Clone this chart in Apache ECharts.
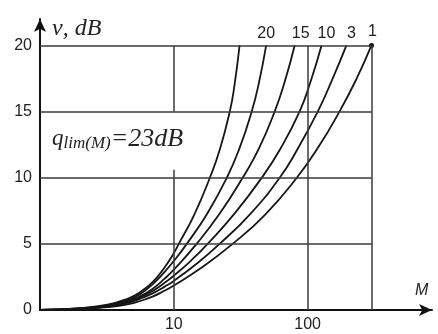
<!DOCTYPE html>
<html><head><meta charset="utf-8">
<script src="https://cdn.jsdelivr.net/npm/echarts@6/dist/echarts.min.js"></script>
<style>html,body{margin:0;padding:0;background:#fff}#c{width:438px;height:334px}</style>
</head><body><div id="c"></div>
<script>
// Curves: [M, v(dB)]
const curveA = [[1,0],[2,0.14],[3.2,0.4],[4.5,0.85],[5.6,1.35],[7,2.15],[8.5,3.2],[10,4.3],[10.9,5],[14.2,7.2],[18.6,10],[22.1,12.15],[26.2,15],[28.5,17.1],[31,20]];
const curve20 = [[1,0],[2,0.13],[3.2,0.36],[4.5,0.75],[5.6,1.2],[7,1.98],[8.5,2.86],[10,3.7],[12.5,5],[17.8,7.3],[24.9,10],[30.9,12.2],[38.2,15],[43.3,17.2],[49,20]];
const curve15 = [[1,0],[2,0.12],[3.2,0.32],[4.5,0.65],[5.6,1.03],[7,1.63],[8.5,2.35],[10,3.05],[14.8,5],[21.9,7.25],[32.7,10],[43.2,12.2],[56.7,15],[67.6,17.3],[80,20]];
const curve10 = [[1,0],[2,0.1],[3.2,0.28],[4.5,0.58],[5.6,0.95],[7,1.46],[8.5,2.04],[10,2.6],[13.4,3.72],[17.9,5],[28.5,7.3],[45.4,10],[63.1,12.25],[87,15],[104.7,17.2],[127,20]];
const curve3 = [[1,0],[2,0.09],[3.2,0.25],[4.5,0.52],[5.6,0.85],[7,1.28],[8.5,1.75],[10,2.2],[14.8,3.5],[22,5],[37.2,7.25],[61.8,10],[85,12.25],[119,15],[151,17.3],[195,20]];
const curve1 = [[1,0],[2,0.08],[3.2,0.22],[4.5,0.42],[5.6,0.68],[7,1.03],[8.5,1.45],[10,1.85],[15.85,3.15],[27.5,5],[48,7.2],[83,10],[120,12.3],[173,15],[230,17.4],[300,20]];
const curveNames = ['', '20', '15', '10', '3', '1'];
const yTickLabels = [0, 5, 10, 15, 20];
const xTickLabels = [10, 100];
const gridRows = [5, 10, 15, 20];
const gridCols = [100, 300];
const gridCol10Segments = [[0, 10.6], [15, 20]];
const xGridMin = 1, xGridMax = 300;

const curves = [curveA, curve20, curve15, curve10, curve3, curve1];
const labelOffsets = [0, 0, 6, 5, 5, 1];

const chart = echarts.init(document.getElementById('c'));
const gridLines = [];
gridRows.forEach(v => gridLines.push([{coord:[xGridMin, v]}, {coord:[xGridMax, v]}]));
gridCols.forEach(m => gridLines.push([{coord:[m, 0]}, {coord:[m, 20]}]));
gridCol10Segments.forEach(s => gridLines.push([{coord:[10, s[0]]}, {coord:[10, s[1]]}]));

const series = curves.map((pts, i) => {
  const last = pts.length - 1;
  return {
    type: 'line',
    smooth: 0.5,
    symbol: 'circle',
    showSymbol: true,
    symbolSize: (val, p) => p.dataIndex === last ? (i === 5 ? 5 : 1) : 0,
    itemStyle: {color: '#111'},
    lineStyle: {color: '#161616', width: 1.8},
    silent: true,
    z: 3,
    data: pts.map((p, j) => (j === last && curveNames[i]) ? {
      value: p,
      label: {show: true, formatter: curveNames[i], position: 'top', distance: 3,
        offset: [labelOffsets[i], 0], fontSize: 16, color: '#222', fontFamily: 'Liberation Sans'}
    } : p),
    markLine: i === 0 ? {
      silent: true, symbol: ['none', 'none'], label: {show: false},
      lineStyle: {color: '#3a3a3a', width: 1.5, type: 'solid'},
      emphasis: {disabled: true},
      data: gridLines
    } : undefined
  };
});

chart.setOption({
  animation: false,
  backgroundColor: '#fff',
  grid: {left: 40, right: 6, top: 19, bottom: 24},
  xAxis: {
    type: 'log', logBase: 10, min: 1, max: 850,
    axisLine: {show: true, lineStyle: {color: '#111', width: 2}, symbol: ['none', 'arrow'], symbolSize: [9, 13]},
    axisTick: {show: false}, splitLine: {show: false},
    axisLabel: {margin: 7, fontSize: 16, color: '#222', fontFamily: 'Liberation Sans',
      formatter: v => xTickLabels.includes(Math.round(v)) ? String(Math.round(v)) : ''}
  },
  yAxis: {
    type: 'value', min: 0, max: 22, interval: 5,
    axisLine: {show: true, lineStyle: {color: '#111', width: 2}, symbol: ['none', 'arrow'], symbolSize: [9, 13]},
    axisTick: {show: false}, splitLine: {show: false},
    axisLabel: {margin: 8, fontSize: 16, color: '#222', fontFamily: 'Liberation Sans',
      formatter: v => yTickLabels.includes(v) ? String(v) : ''}
  },
  graphic: [
    {type: 'text', left: 52, top: 17, style: {text: 'ν, dB', font: 'italic 24px "Liberation Serif"', fill: '#222'}},
    {type: 'text', left: 52, top: 126, style: {
      text: '{q|q}{s|lim(M)}{e|=23dB}',
      rich: {
        q: {font: 'italic 23px "Liberation Serif"', fill: '#222'},
        s: {font: 'italic 17px "Liberation Serif"', fill: '#222', verticalAlign: 'bottom', padding: [9, 0, 0, 0]},
        e: {font: 'italic 26px "Liberation Serif"', fill: '#222'}
      }
    }},
    {type: 'text', left: 415, top: 283, style: {text: 'M', font: 'italic 16px "Liberation Sans"', fill: '#222'}}
  ],
  series: series
});
</script></body></html>
